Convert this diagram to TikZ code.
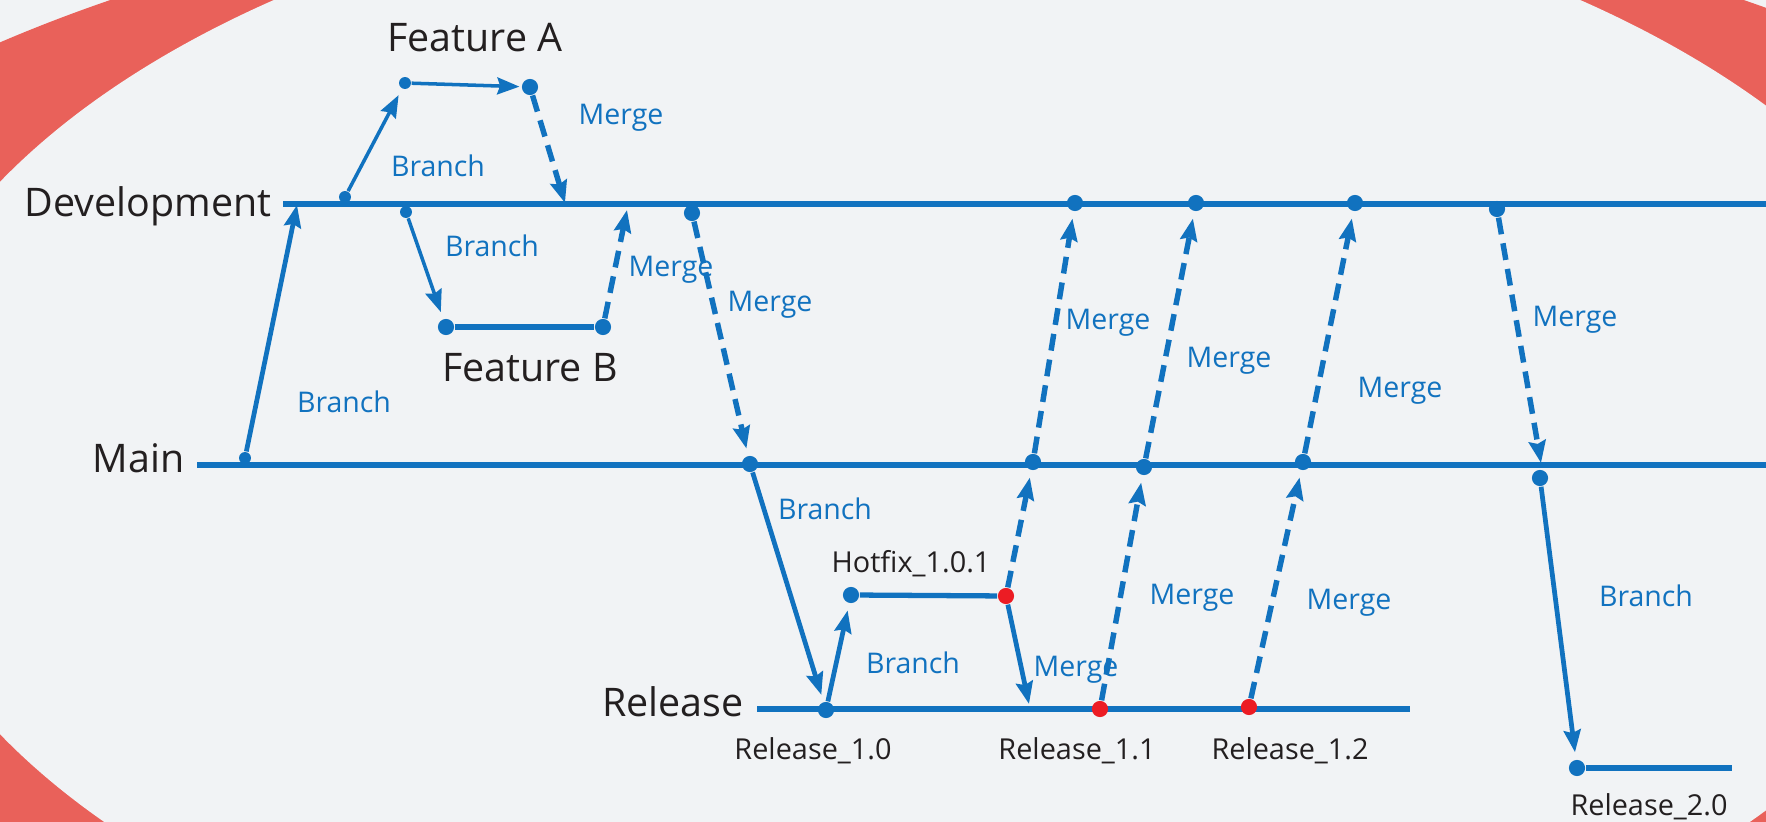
\documentclass[tikz,border=0pt]{standalone}
\usepackage{fontspec}
\setmainfont{Open Sans}
\usetikzlibrary{arrows.meta,positioning}
\definecolor{Git}{HTML}{1172BF}
\definecolor{Coral}{HTML}{E9615A}
\definecolor{Hot}{HTML}{EC1C24}
\definecolor{Paper}{HTML}{F1F3F5}
\definecolor{Ink}{HTML}{231F20}

\begin{document}
\begin{tikzpicture}[x=0.01cm, y=-0.01cm, lane/.style={line width=1.5pt, color=Git}, branch/.style={-{Stealth[length=6.3pt,width=4.8pt,inset=0.8pt]}, line width=1.35pt, color=Git, shorten >=2pt}, slim/.style={line width=1pt}, merge/.style={branch, dash pattern=on 4.8pt off 2.6pt, line width=1.55pt}, dot/.style={circle, fill=Git, inner sep=0pt, minimum size=4.6pt}, sdot/.style={dot, minimum size=3.4pt}, rdot/.style={dot, fill=Hot}, tag/.style={font=\fontsize{11.2}{13}\selectfont, text=Ink, inner sep=0pt}, rtag/.style={font=\fontsize{8.2}{10}\selectfont, text=Ink, inner sep=0pt, anchor=base}, lbl/.style={font=\fontsize{8.1}{10}\selectfont, text=Git, inner sep=0pt, anchor=base}]
% backdrop
\useasboundingbox (0,0) rectangle (1766,822);
\fill[Paper] (0,0) rectangle (1766,822);
\begin{scope}
\clip (0,0) rectangle (1766,822);
\fill[Coral] (927,458) ellipse [x radius=13.25cm, y radius=5.81cm];
\fill[Paper] (927,458) ellipse [x radius=10.51cm, y radius=5.84cm];
\end{scope}
% lanes
\coordinate (devL) at (283,204); \coordinate (devR) at (1766,204);
\coordinate (mainL) at (197,465); \coordinate (mainR) at (1766,465);
\coordinate (relL) at (757,709); \coordinate (relR) at (1410,709);
\coordinate (r2R) at (1732,768);
\draw[lane] (devL) -- (devR);
\draw[lane] (mainL) -- (mainR);
\draw[lane] (relL) -- (relR);
\node[tag, anchor=base east] (dev) at (272,217) {Development};
\node[tag, anchor=base east] (main) at (185,473) {Main};
\node[tag, anchor=base east] (rel) at (744,717) {Release};
\node[tag, anchor=base] (featA) at (475,52) {Feature A};
\node[tag, anchor=base] (featB) at (530,382) {Feature B};
% commits
\node[sdot] (m0) at (245,458) {};
\node[sdot] (d0) at (345,197) {};
\node[sdot] (d1) at (406,212) {};
\node[sdot] (fa1) at (405,83) {};
\node[dot] (fa2) at (530,87) {};
\node[dot] (fb1) at (446,327) {};
\node[dot] (fb2) at (603,327) {};
\node[dot] (d2) at (692,213) {};
\node[dot] (m1) at (750,464) {};
\node[dot] (r10) at (826,710) {};
\node[dot] (hf1) at (851,595) {};
\node[rdot] (hf2) at (1006,596) {};
\node[rdot] (r11) at (1100,709) {};
\node[rdot] (r12) at (1249,707) {};
\node[dot] (m2) at (1033,462) {};
\node[dot] (m3) at (1144,467) {};
\node[dot] (m4) at (1303,462) {};
\node[dot] (d3) at (1075,203) {};
\node[dot] (d4) at (1196,203) {};
\node[dot] (d5) at (1355,203) {};
\node[dot] (d6) at (1497,209) {};
\node[dot] (m5) at (1540,478) {};
\node[dot] (r20) at (1577,768) {};
\coordinate (tipM) at (297,205);
\coordinate (tipA) at (565,203);
\coordinate (tipB) at (627,210);
\coordinate (tipH) at (1029,704);
\coordinate (tipR) at (1541,463);
% flows
\draw[branch, shorten >=0pt] (m0) -- (tipM);
\draw[branch, slim] (d0) -- (fa1);
\draw[branch, slim, shorten >=0.5pt] (fa1) -- (fa2);
\draw[merge, shorten >=0pt] (fa2) -- (tipA);
\draw[branch, slim] (d1) -- (fb1);
\draw[lane] (fb1) -- (fb2);
\draw[merge, shorten >=0pt] (fb2) -- (tipB);
\draw[merge] (d2) -- (m1);
\draw[branch] (m1) -- (r10);
\draw[branch] (r10) -- (hf1);
\draw[lane] (hf1) -- (hf2);
\draw[branch, shorten >=0pt] (hf2) -- (tipH);
\foreach \a/\b in {hf2/m2,r11/m3,r12/m4,m2/d3,m3/d4,m4/d5}{\draw[merge] (\a) -- (\b);}
\draw[merge, shorten >=0pt] (d6) -- (tipR);
\draw[branch] (m5) -- (r20);
\draw[lane] (r20) -- (r2R);
% labels
\node[lbl] (lbM) at (344,413) {Branch};
\node[lbl] (lbA) at (438,177) {Branch};
\node[lbl] (lmA) at (621,125) {Merge};
\node[lbl] (lbB) at (492,257) {Branch};
\node[lbl] (lmB) at (671,277) {Merge};
\node[lbl] (lmC) at (770,312) {Merge};
\node[lbl] (lm3) at (1108,330) {Merge};
\node[lbl] (lm4) at (1229,368) {Merge};
\node[lbl] (lm5) at (1400,398) {Merge};
\node[lbl] (lm6) at (1575,327) {Merge};
\node[lbl] (lbR) at (825,520) {Branch};
\node[lbl] (lbH) at (913,674) {Branch};
\node[lbl] (lmH) at (1076,677) {Merge};
\node[lbl] (lm11) at (1192,605) {Merge};
\node[lbl] (lm12) at (1349,610) {Merge};
\node[lbl] (lb2) at (1646,607) {Branch};
\node[rtag] (hot) at (911,573) {Hotfix\_1.0.1};
\node[rtag] (v10) at (813,760) {Release\_1.0};
\node[rtag] (v11) at (1077,760) {Release\_1.1};
\node[rtag] (v12) at (1290,760) {Release\_1.2};
\node[rtag] (v20) at (1649,816) {Release\_2.0};
\end{tikzpicture}
\end{document}
